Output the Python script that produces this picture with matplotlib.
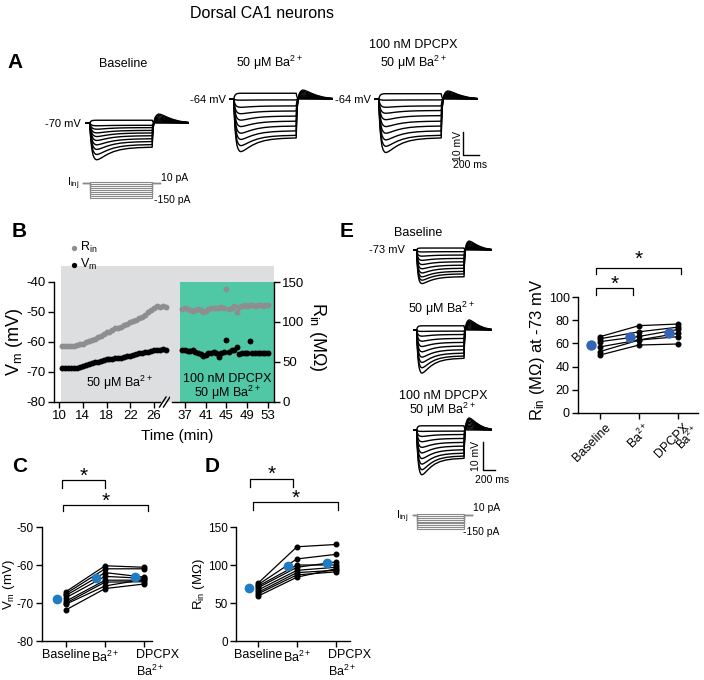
import numpy as np
import matplotlib
matplotlib.use('Agg')
import matplotlib.pyplot as plt
from matplotlib.transforms import blended_transform_factory, ScaledTranslation

plt.rcParams['font.family'] = ['Liberation Sans', 'DejaVu Sans']
plt.rcParams['mathtext.fontset'] = 'custom'
plt.rcParams['mathtext.rm'] = 'Liberation Sans'
plt.rcParams['mathtext.it'] = 'Liberation Sans:italic'
plt.rcParams['mathtext.bf'] = 'Liberation Sans:bold'
plt.rcParams['axes.linewidth'] = 1.0
plt.rcParams['axes.unicode_minus'] = False

BA = r'Ba$^{2+}$'

# ---- A / E: step-response template (ms) and per-sweep amplitudes (mV)
t_key = [0, 60, 64, 70, 78, 88, 100, 115, 132, 150, 175, 205, 245, 295, 360, 440, 540, 660, 840,
         845, 852, 862, 876, 895, 920, 950, 990, 1040, 1100, 1180, 1300]
a_key = [0, 0, .25, .5, .7, .84, .93, .97, .99, 1, 1, 1, 1, 1, 1, 1, 1, 1, 1,
         .6, .3, .12, .04, .01, 0, 0, 0, 0, 0, 0, 0]
s_key = [0, 0, .05, .17, .35, .55, .75, .9, .99, 1, .95, .85, .7, .53, .36, .22, .12, .06, .02,
         .01, 0, 0, 0, 0, 0, 0, 0, 0, 0, 0, 0]
q_key = [0, 0, 0, 0, 0, 0, 0, 0, 0, 0, 0, 0, 0, 0, 0, 0, 0, 0, 0,
         .05, .2, .45, .7, .9, 1, .95, .8, .6, .4, .2, .05]

steady_A0 = [1.2, -1.0, -2.0, -3.2, -4.3, -5.5, -6.8, -8.0, -9.3, -10.4]
peak_A0 = [1.2, -1.2, -2.7, -4.3, -5.9, -7.6, -9.5, -11.5, -13.7, -16.0]
reb_A0 = [0, 0.2, 0.5, 0.9, 1.3, 1.7, 2.2, 2.7, 3.3, 3.9]
steady_A1 = [2.5, -0.4, -3.0, -5.2, -7.4, -9.6, -11.7, -13.8, -15.7, -16.8]
peak_A1 = [2.5, -0.5, -3.6, -6.4, -9.2, -12.0, -14.9, -17.6, -20.3, -22.9]
reb_A1 = [0, 0.2, 0.6, 1.0, 1.4, 1.8, 2.3, 2.8, 3.3, 3.9]
steady_A2 = [2.3, -0.4, -3.0, -5.0, -7.2, -9.6, -11.7, -13.8, -15.7, -16.8]
peak_A2 = [2.3, -0.5, -3.6, -6.2, -9.0, -12.0, -14.9, -17.8, -20.6, -23.3]
reb_A2 = [0, 0.2, 0.5, 0.9, 1.2, 1.6, 2.0, 2.5, 3.0, 3.5]

steady_E0 = [0.7, -0.6, -1.8, -3.0, -4.2, -5.4, -6.5, -7.6, -8.5, -9.5]
peak_E0 = [0.7, -0.7, -2.2, -3.7, -5.2, -6.7, -8.2, -9.6, -10.8, -12.0]
reb_E0 = [0, 0.3, 0.6, 0.9, 1.2, 1.5, 1.9, 2.3, 2.7, 3.2]
steady_E1 = [1.5, -0.4, -1.6, -3.0, -4.4, -5.7, -7.0, -8.2, -9.2, -10.0]
peak_E1 = [1.5, -0.5, -2.2, -4.0, -5.9, -7.8, -9.7, -11.6, -13.5, -15.4]
reb_E1 = [0, 0.3, 0.7, 1.1, 1.5, 1.9, 2.3, 2.7, 3.1, 3.6]
steady_E2 = [1.5, -0.4, -1.6, -3.0, -4.4, -5.7, -7.0, -8.2, -9.2, -10.0]
peak_E2 = [1.5, -0.5, -2.3, -4.2, -6.2, -8.2, -10.2, -12.2, -14.2, -16.0]
reb_E2 = [0, 0.4, 0.8, 1.3, 1.8, 2.3, 2.8, 3.3, 3.8, 4.3]

i_steps = [10, -10, -30, -50, -70, -90, -110, -130, -150]

# ---- B: time course
t_left = [10.5, 11, 11.5, 12, 12.5, 13, 13.5, 14, 14.5, 15, 15.5, 16, 16.5, 17, 17.5, 18, 18.5, 19,
          19.5, 20, 20.5, 21, 21.5, 22, 22.5, 23, 23.5, 24, 24.5, 25, 25.5, 26, 26.5, 27, 27.5, 28]
rin_left = [70, 70, 70.5, 70, 70.5, 71, 72, 73, 75, 76, 78, 79, 81, 83, 85, 87, 88, 90,
            92, 93, 94, 96, 98, 100, 101, 103, 105, 106, 109, 112, 115, 118, 120, 119, 120, 119]
vm_left = [-68.5, -68.6, -68.5, -68.7, -68.5, -68.5, -68.2, -68.0, -67.6, -67.3, -67.0, -66.7, -66.5,
           -66.2, -66.0, -65.8, -65.5, -65.5, -65.3, -65.3, -65.2, -65.0, -64.7, -64.5, -64.2, -64.0,
           -63.8, -63.5, -63.2, -63.3, -63.0, -62.8, -62.5, -62.7, -62.3, -62.6]
t_right = [36.5, 37, 37.5, 38, 38.5, 39, 39.5, 40, 40.5, 41, 41.5, 42, 42.5, 43, 43.5, 44, 44.5,
           45, 45.5, 46, 46.5, 47, 47.5, 48, 48.5, 49, 49.5, 50, 50.5, 51, 51.5, 52, 52.5, 53]
rin_right = [116, 117, 116, 115, 114, 115, 116, 115, 113, 114, 116, 117, 118, 117, 118, 119, 118,
             141, 116, 117, 120, 112, 119, 120, 121, 120, 121, 121, 120, 121, 121, 120, 121, 121]
vm_right = [-62.8, -62.6, -62.9, -63.0, -62.8, -63.2, -63.5, -64.0, -64.5, -64.2, -63.6, -63.8, -63.3,
            -63.6, -65.0, -63.5, -63.2, -59.2, -63.4, -62.8, -62.5, -61.6, -64.1, -63.6, -63.8, -63.5,
            -59.6, -63.8, -63.6, -63.7, -63.5, -63.6, -63.5, -63.6]

# ---- C, D, E: paired cells (Baseline, Ba2+, DPCPX + Ba2+)
conds = ['Baseline', BA, 'DPCPX\n' + BA]
vm_base = [-67.0, -67.5, -68.0, -68.6, -69.5, -70.0, -70.3, -71.8]
vm_ba = [-60.2, -61.0, -62.0, -63.0, -64.0, -64.5, -65.5, -66.2]
vm_dp = [-60.6, -61.0, -63.2, -63.5, -64.0, -64.4, -63.8, -65.0]
vm_mean = [-69.0, -63.5, -63.1]
rin_base = [76, 74, 72, 70, 67, 64, 62, 59]
rin_ba = [124, 108, 100, 97, 93, 90, 87, 84]
rin_dp = [127, 114, 100, 104, 97, 93, 91, 95]
rin_mean = [69.6, 98.6, 102.0]
r73_base = [65.8, 64.0, 61.5, 57.0, 53.0, 50.0]
r73_ba = [75.3, 70.0, 66.0, 63.0, 62.9, 58.6]
r73_dp = [76.7, 74.0, 72.0, 68.7, 65.8, 59.5]
r73_mean = [58.6, 65.2, 69.2]

W, H = 704, 680
fig = plt.figure(figsize=(W / 100, H / 100), dpi=100)


def add_ax(x0, y0, x1, y1):
    return fig.add_axes([x0 / W, 1 - y1 / H, (x1 - x0) / W, (y1 - y0) / H])


def label(x, y, s, **kw):
    fig.text(x / W, 1 - y / H, s, **kw)


def traces(x0, x1, y0, y1, ybase, vbase, px_mv, steady, peak, reb):
    ax = add_ax(x0, y0, x1, y1)
    ax.set_xlim(0, t_key[-1])
    ax.set_ylim(vbase - (y1 - ybase) / px_mv, vbase + (ybase - y0) / px_mv)
    ax.axis('off')
    a, s, q = np.array(a_key), np.array(s_key), np.array(q_key)
    for d, p, r in zip(steady, peak, reb):
        ax.plot(t_key, vbase + d * a + (p - d) * s + r * q, color='k', lw=1.0)
    return ax


def currents(x0, x1, y0, y1, y10, y150, t0, t1):
    ax = add_ax(x0, y0, x1, y1)
    k = 160 / (y150 - y10)
    ax.set_xlim(0, t_key[-1])
    ax.set_ylim(-150 - (y1 - y150) * k, 10 + (y10 - y0) * k)
    ax.axis('off')
    for c in i_steps:
        ax.plot([t0, 60, 60, 840, 840, t1], [0, 0, c, c, 0, 0], color='#8a8a8a', lw=0.8, clip_on=False)
    return ax


def scalebar(ax, t0, v0, dt=200, dv=10):
    ax.plot([t0, t0, t0 + dt], [v0 + dv, v0, v0], color='k', lw=1.0, clip_on=False)


TXT = 9
label(262, 18, 'Dorsal CA1 neurons', ha='center', fontsize=11.5)
for lt, x, y in [('A', 15, 68), ('B', 19, 237), ('C', 20, 472), ('D', 212, 472), ('E', 347, 237)]:
    label(x, y, lt, ha='center', fontsize=15, fontweight='bold')

# ---------------- A
traces(85, 189, 100, 175, 123, -70, 2.3, steady_A0, peak_A0, reb_A0)
traces(229, 333, 80, 165, 99, -64, 2.3, steady_A1, peak_A1, reb_A1)
axA2 = traces(374, 478, 80, 165, 99, -64, 2.3, steady_A2, peak_A2, reb_A2)
scalebar(axA2, 1109, -88.4)
label(123, 67, 'Baseline', ha='center', fontsize=TXT)
label(269, 67, '50 μM ' + BA, ha='center', fontsize=TXT)
label(413, 48, '100 nM DPCPX', ha='center', fontsize=TXT)
label(413, 67, '50 μM ' + BA, ha='center', fontsize=TXT)
label(81, 127, '-70 mV', ha='right', fontsize=8)
label(226, 103, '-64 mV', ha='right', fontsize=8)
label(371, 103, '-64 mV', ha='right', fontsize=8)
label(458, 146, '10 mV', ha='center', va='center', rotation=90, fontsize=7.5)
label(470, 168, '200 ms', ha='center', fontsize=7.5)
currents(85, 189, 178, 202, 182, 198, -25, 940)
label(79, 186, r'I$_{\mathrm{inj}}$', ha='right', fontsize=8)
label(161, 181, '10 pA', ha='left', fontsize=7.5)
label(154, 203, '-150 pA', ha='left', fontsize=7.5)

# ---------------- B
GRAY_BG = '#dddee0'
GREEN = '#50c8a6'
RIN_C = '#8e8e8e'
axL = add_ax(54, 282, 170, 402)
axR = add_ax(170, 282, 274, 402)
for ax in (axL, axR):
    ax.patch.set_visible(False)
    ax.set_ylim(-80, -40)
    ax.spines['top'].set_visible(False)
    ax.spines['right'].set_visible(False)
    ax.tick_params(direction='out', length=4, width=1, labelsize=9.5, pad=2)
axL.set_xlim(9.16, 28.69)
axR.set_xlim(34.11, 54.16)
axL.axvspan(10.34, 28.69, ymax=1.133, color=GRAY_BG, lw=0, clip_on=False, zorder=0)
axR.axvspan(34.11, 54.16, ymax=1.133, color=GRAY_BG, lw=0, clip_on=False, zorder=0)
axR.axvspan(36.04, 54.16, color=GREEN, lw=0, zorder=0.5)
axL.spines['bottom'].set_bounds(9.16, 27.0)
axR.spines['left'].set_visible(False)
axR.spines['bottom'].set_bounds(34.5, 54.16)
axL.set_xticks([10, 14, 18, 22, 26])
axR.set_xticks([37, 41, 45, 49, 53])
axL.set_yticks([-80, -70, -60, -50, -40])
axL2 = axL.twinx()
axR2 = axR.twinx()
for ax in (axL2, axR2):
    ax.set_ylim(0, 150)
    for sp in ('top', 'left', 'bottom'):
        ax.spines[sp].set_visible(False)
axL2.spines['right'].set_visible(False)
axL2.set_yticks([])
axL2.yaxis.set_visible(False)
axR.set_yticks([])
axR.tick_params(axis='y', which='both', left=False, right=False, labelleft=False, labelright=False)
axR.yaxis.set_visible(False)
axL.tick_params(axis='y', which='both', right=False, labelright=False)
axR2.set_yticks([0, 50, 100, 150])
axR2.tick_params(axis='y', which='both', direction='out', length=4, width=1, labelsize=9.5, pad=2,
                 left=False, labelleft=False, right=True, labelright=True)
sc_r = axL2.scatter(t_left, rin_left, s=18, color=RIN_C, lw=0)
axR2.scatter(t_right, rin_right, s=18, color=RIN_C, lw=0)
sc_v = axL.scatter(t_left, vm_left, s=18, color='k', lw=0)
axR.scatter(t_right, vm_right, s=18, color='k', lw=0)
axL.set_ylabel(r'V$_{\mathrm{m}}$ (mV)', fontsize=13)
axL.yaxis.set_label_coords(-0.25, 0.5)
axR2.set_ylabel(r'R$_{\mathrm{in}}$ (MΩ)', fontsize=13, rotation=270, va='center')
axR2.yaxis.set_label_coords(1.42, 0.54)
for xa, xb in [(159.5, 166.0), (163.5, 170.0)]:
    axL.plot([(xa - 54) / 116, (xb - 54) / 116], [-5 / 120, 5 / 120], transform=axL.transAxes,
             color='k', lw=1.0, clip_on=False)
label(119, 387, '50 μM ' + BA, ha='center', fontsize=TXT)
label(227, 381.5, '100 nM DPCPX', ha='center', fontsize=TXT)
label(227, 396.5, '50 μM ' + BA, ha='center', fontsize=TXT)
label(177, 440, 'Time (min)', ha='center', fontsize=11)
fig.legend([sc_r, sc_v], [r'R$_{\mathrm{in}}$', r'V$_{\mathrm{m}}$'], loc='upper left',
           bbox_to_anchor=(61 / W, 1 - 234 / H), frameon=False, fontsize=9, handletextpad=0.0,
           labelspacing=0.15, borderpad=0, handlelength=1.0, markerscale=0.9)


# ---------------- C, D, E
def paired(ax, base, ba, dp, mean, mcolor, msize, off):
    x = np.arange(3)
    for row in zip(base, ba, dp):
        ax.plot(x, row, color='k', lw=0.9, marker='o', ms=3.3, zorder=3)
    ax.plot(x + off, mean, 'o', color=mcolor, ms=msize, zorder=5, mec='none')
    ax.spines['top'].set_visible(False)
    ax.spines['right'].set_visible(False)
    ax.set_xticks(x)
    ax.tick_params(direction='out', length=4, width=1, labelsize=9, pad=2)
    ax.tick_params(axis='y', labelsize=8.5)


def brackets(ax, items):
    tr = blended_transform_factory(ax.transData, ax.transAxes)
    for x0, x1, ylo, yhi, xs, ys in items:
        ax.plot([x0, x0, x1, x1], [ylo, yhi, yhi, ylo], transform=tr, color='k', lw=0.9, clip_on=False)
        ax.text(xs, ys, '*', transform=tr, ha='center', va='baseline', fontsize=15)


def shift_label(lab, dx):
    lab.set_transform(lab.get_transform() + ScaledTranslation(dx / 100, 0, fig.dpi_scale_trans))


BLUE = '#1f7bc2'
axC = add_ax(42, 527, 152, 641)
paired(axC, vm_base, vm_ba, vm_dp, vm_mean, BLUE, 7, -0.23)
axC.set_xlim(-0.615, 2.2)
axC.set_ylim(-80, -50)
axC.set_yticks([-80, -70, -60, -50])
axC.set_xticklabels(conds)
axC.set_ylabel(r'V$_{\mathrm{m}}$ (mV)', fontsize=9.5)
axC.yaxis.set_label_coords(-0.225, 0.49)
brackets(axC, [(-0.1, 1.0, 1.342, 1.412, 0.45, 1.40), (-0.08, 2.1, 1.14, 1.193, 1.01, 1.18)])

axD = add_ax(236, 527, 350, 641)
paired(axD, rin_base, rin_ba, rin_dp, rin_mean, BLUE, 7, -0.23)
axD.set_xlim(-0.564, 2.36)
axD.set_ylim(0, 150)
axD.set_yticks([0, 50, 100, 150])
axD.set_xticklabels(conds)
axD.set_ylabel(r'R$_{\mathrm{in}}$ (MΩ)', fontsize=9.5)
axD.yaxis.set_label_coords(-0.255, 0.5)
brackets(axD, [(-0.2, 0.9, 1.35, 1.42, 0.35, 1.41), (-0.13, 2.05, 1.15, 1.22, 0.96, 1.20)])
for ax in (axC, axD):
    lab = ax.get_xticklabels()[2]
    lab.set_ha('left')
    lab.set_multialignment('left')
    shift_label(lab, -8)

axE = add_ax(578, 297, 698, 413)
paired(axE, r73_base, r73_ba, r73_dp, r73_mean, '#3563b5', 7.5, -0.23)
axE.set_xlim(-0.564, 2.51)
axE.set_ylim(0, 100)
axE.set_yticks([0, 20, 40, 60, 80, 100])
axE.tick_params(axis='y', labelsize=9)
axE.set_xticklabels(['Baseline', BA, 'DPCPX'], rotation=45, ha='right', rotation_mode='anchor')
for lab in axE.get_xticklabels():
    shift_label(lab, 5)
label(688, 438, BA, ha='center', va='center', rotation=45, fontsize=8.5)
axE.set_ylabel(r'R$_{\mathrm{in}}$ (MΩ) at -73 mV', fontsize=12)
axE.yaxis.set_label_coords(-0.26, 0.54)
brackets(axE, [(-0.1, 0.85, 1.017, 1.078, 0.37, 1.065), (-0.1, 2.08, 1.198, 1.25, 1.0, 1.28)])

# E traces
traces(413, 492, 235, 292, 250, -73, 2.8, steady_E0, peak_E0, reb_E0)
traces(413, 492, 312, 380, 330, -73, 2.8, steady_E1, peak_E1, reb_E1)
axE2 = traces(413, 492, 410, 480, 430, -73, 2.8, steady_E2, peak_E2, reb_E2)
scalebar(axE2, 1152, -87.3)
label(418, 236, 'Baseline', ha='center', fontsize=TXT)
label(441, 313, '50 μM ' + BA, ha='center', fontsize=TXT)
label(443, 399, '100 nM DPCPX', ha='center', fontsize=TXT)
label(442, 414, '50 μM ' + BA, ha='center', fontsize=TXT)
label(405, 253, '-73 mV', ha='right', fontsize=8)
label(476, 456, '10 mV', ha='center', va='center', rotation=90, fontsize=7.5)
label(492, 483, '200 ms', ha='center', fontsize=7.5)
currents(413, 492, 510, 534, 514, 529, 0, 970)
label(408, 519, r'I$_{\mathrm{inj}}$', ha='right', fontsize=8)
label(473, 511, '10 pA', ha='left', fontsize=7.5)
label(463, 535, '-150 pA', ha='left', fontsize=7.5)

fig.savefig('out.png', dpi=100)
